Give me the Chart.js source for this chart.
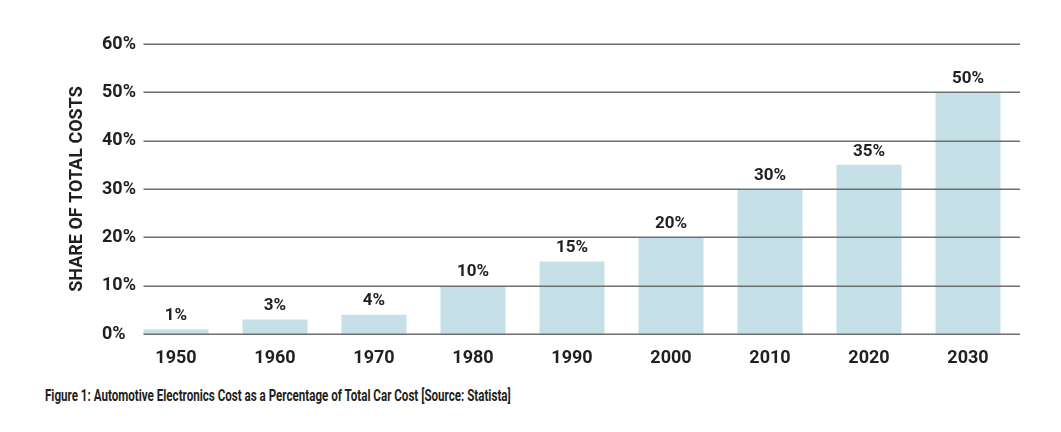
<!DOCTYPE html>
<html>
<head>
<meta charset="utf-8">
<script src="https://cdn.jsdelivr.net/npm/chart.js@4.4.1/dist/chart.umd.min.js"></script>
<style>
  html, body { margin: 0; padding: 0; background: #ffffff; }
  #wrap { position: relative; width: 1061px; height: 432px; }
  #box { position: absolute; left: 0; top: 0; width: 1061px; height: 370px; }
  #caption {
    position: absolute; left: 45px; top: 386px;
    font-family: Roboto, "Liberation Sans", sans-serif; font-weight: 700;
    font-size: 16px; color: #231f20; white-space: nowrap;
    transform-origin: 0 0; transform: scaleX(0.725);
  }
</style>
</head>
<body>
<div id="wrap">
  <div id="box"><canvas id="c"></canvas></div>
  <div id="caption">Figure 1: Automotive Electronics Cost as a Percentage of Total Car Cost [Source: Statista]</div>
</div>
<script>
const categories = ["1950", "1960", "1970", "1980", "1990", "2000", "2010", "2020", "2030"];
const shareValues = [1, 3, 4, 10, 15, 20, 30, 35, 50];
const valueLabels = ["1%", "3%", "4%", "10%", "15%", "20%", "30%", "35%", "50%"];
const yTitle = "SHARE OF TOTAL COSTS";

const TEXT = "#231f20";
const FONT = 'Roboto, "Liberation Sans", sans-serif';

const overlayPlugin = {
  id: "overlay",
  afterDatasetsDraw(chart) {
    const ctx = chart.ctx;
    const y = chart.scales.y;
    const meta = chart.getDatasetMeta(0);
    const first = meta.data[0];
    const x0 = first.x - first.width / 2;
    const x1 = chart.chartArea.right + 2.5;
    ctx.save();
    ctx.strokeStyle = "#6f6f6f";
    ctx.lineWidth = 1.5;
    y.ticks.forEach(t => {
      const py = Math.round(y.getPixelForValue(t.value)) + 0.25;
      ctx.beginPath();
      ctx.moveTo(x0, py);
      ctx.lineTo(x1, py);
      ctx.stroke();
    });
    ctx.fillStyle = TEXT;
    ctx.font = "700 17px " + FONT;
    ctx.textAlign = "center";
    ctx.textBaseline = "bottom";
    meta.data.forEach((bar, i) => {
      ctx.fillText(valueLabels[i], bar.x, bar.y - 5);
    });
    ctx.restore();
  }
};

new Chart(document.getElementById("c"), {
  type: "bar",
  data: {
    labels: categories,
    datasets: [{
      data: shareValues,
      backgroundColor: "#c5e1e7",
      borderWidth: 0,
      categoryPercentage: 1,
      barPercentage: 0.657
    }]
  },
  options: {
    responsive: true,
    maintainAspectRatio: false,
    animation: false,
    layout: { padding: { top: 44, left: 0, right: 43.5, bottom: 0 } },
    plugins: { legend: { display: false }, tooltip: { enabled: false } },
    scales: {
      x: {
        grid: { display: false },
        border: { display: false },
        ticks: { color: TEXT, font: { family: FONT, size: 18, weight: "700" }, padding: 6, maxRotation: 0 },
        afterFit(s) { s.height = 36; }
      },
      y: {
        position: "left",
        min: 0, max: 60,
        grid: { display: false },
        border: { display: false },
        ticks: {
          stepSize: 10,
          color: TEXT,
          mirror: true,
          padding: -24.5,
          font: { family: FONT, size: 18, weight: "700" },
          callback: v => v + "%"
        },
        title: {
          display: true,
          text: yTitle,
          color: TEXT,
          font: { family: FONT, size: 18, weight: "700" },
          padding: { top: 66.7, bottom: 0 }
        },
        afterFit(s) { s.width = 126.5; }
      }
    }
  },
  plugins: [overlayPlugin]
});
</script>
</body>
</html>
